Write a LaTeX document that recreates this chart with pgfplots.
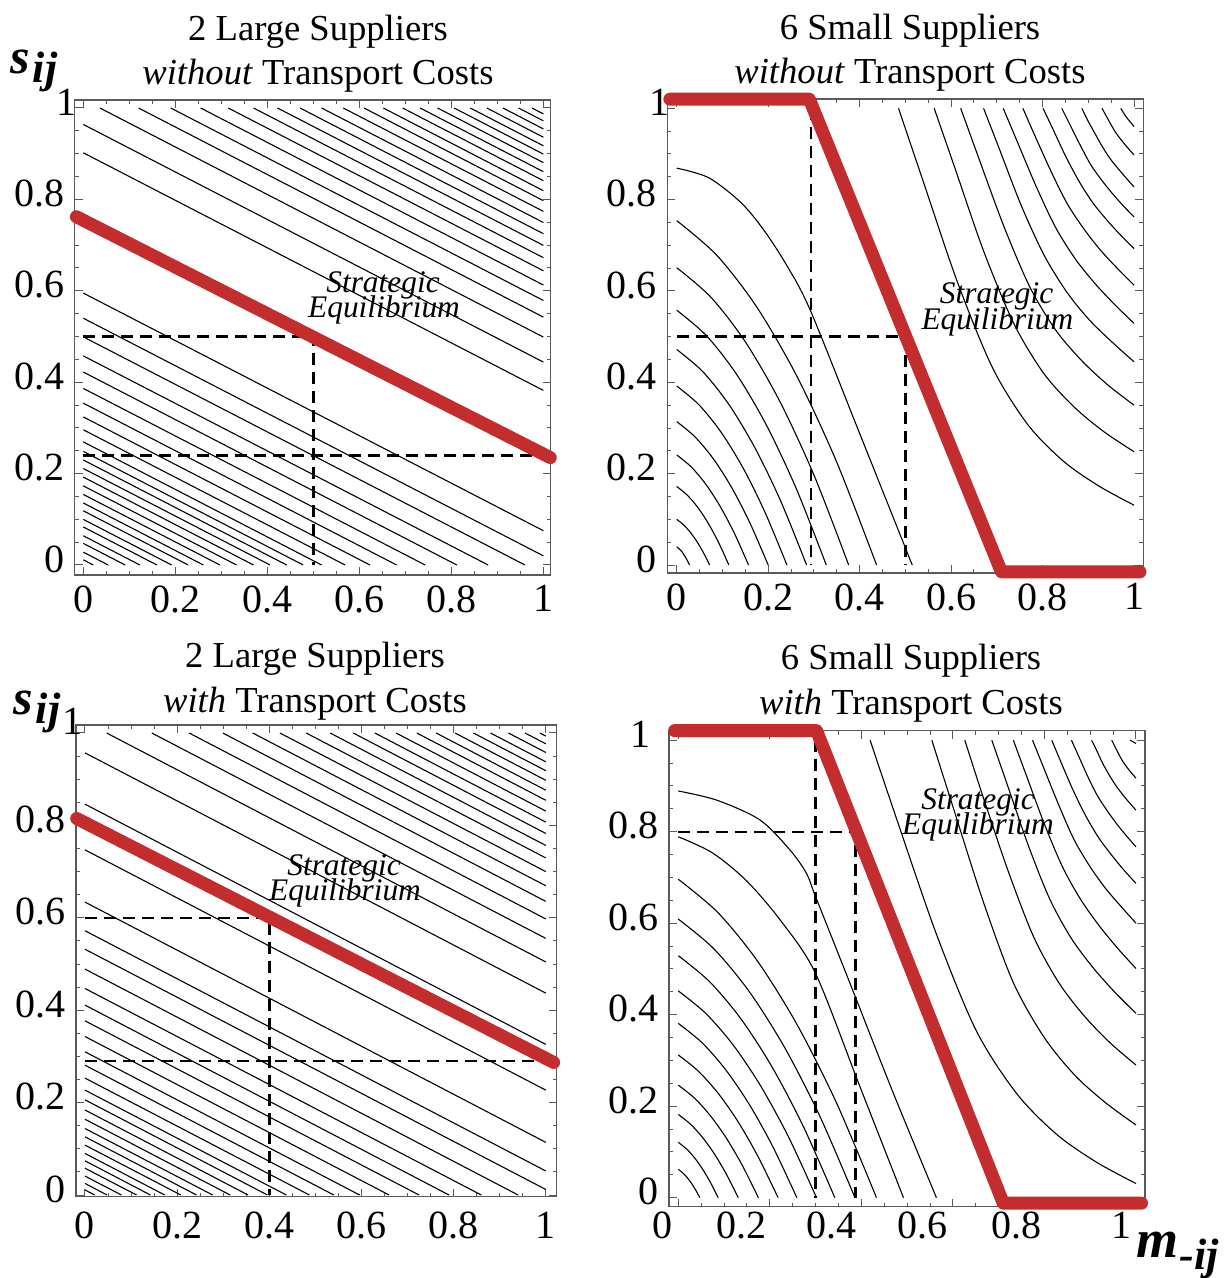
\documentclass[border=0pt]{standalone}
\usepackage{fontspec}
\setmainfont{Liberation Serif}
\usepackage{pgfplots}
\pgfplotsset{compat=1.18}
\definecolor{eqred}{RGB}{196,45,45}
\definecolor{framegray}{RGB}{90,90,90}
\pgfplotsset{
  panel/.style={
    scale only axis, anchor=north west, clip=false,
    axis line style={draw=framegray, line width=0.6pt},
    tick style={draw=framegray, line width=0.5pt},
    tick align=inside, tick pos=both,
    xtick={0,0.2,0.4,0.6,0.8,1}, ytick={0,0.2,0.4,0.6,0.8,1},
    xticklabels={0,0.2,0.4,0.6,0.8,1},
    minor tick num=3,
    major tick length=4pt, minor tick length=2pt,
    tick label style={font=\fontsize{20}{24}\selectfont, inner sep=1pt},
    xticklabel style={yshift=-4pt},
    yticklabel style={xshift=-4pt, yshift=3pt},
  },
  contour/.style={black, line width=0.55pt, no markers},
  curve/.style={black, line width=0.55pt, no markers, smooth},
  eqline/.style={eqred, line width=6.5pt, line cap=round, line join=round, no markers},
  dline/.style={black, line width=1.2pt, dash pattern=on 6pt off 3.5pt, no markers},
}
\newcommand{\cl}[4]{\addplot[contour] coordinates {(#1,#2) (#3,#4)};}
\begin{document}
\begin{tikzpicture}
% ---------------- Panel 1 ----------------
\begin{axis}[panel, at={(37.35pt,-50pt)}, width=238pt, height=237.5pt,
  xmin=-0.0187, xmax=1.0159, ymin=-0.0219, ymax=1.0175,
  yticklabels={0,0.2,0.4,0.6,0.8,{1\hspace*{-6pt}}}]
\cl{0}{0.0113}{0.0217}{0}
\cl{0}{0.0281}{0.054}{0}
\cl{0}{0.0473}{0.091}{0}
\cl{0}{0.0640}{0.123}{0}
\cl{0}{0.0832}{0.160}{0}
\cl{0}{0.0998}{0.192}{0}
\cl{0}{0.1186}{0.228}{0}
\cl{0}{0.1357}{0.261}{0}
\cl{0}{0.1544}{0.297}{0}
\cl{0}{0.1732}{0.333}{0}
\cl{0}{0.1924}{0.370}{0}
\cl{0}{0.2111}{0.406}{0}
\cl{0}{0.2298}{0.442}{0}
\cl{0}{0.2486}{0.478}{0}
\cl{0}{0.2694}{0.518}{0}
\cl{0}{0.2959}{0.569}{0}
\cl{0}{0.3240}{0.623}{0}
\cl{0}{0.3541}{0.681}{0}
\cl{0}{0.3864}{0.743}{0}
\cl{0}{0.4222}{0.812}{0}
\cl{0}{0.4576}{0.880}{0}
\cl{0}{0.4992}{0.960}{0}
\cl{0}{0.540}{1}{0.020}
\cl{0}{0.595}{1}{0.075}
\cl{0}{0.902}{1}{0.382}
\cl{0}{0.964}{1}{0.444}
\cl{0.036}{1}{1}{0.4987}
\cl{0.120}{1}{1}{0.5424}
\cl{0.190}{1}{1}{0.5788}
\cl{0.255}{1}{1}{0.6126}
\cl{0.315}{1}{1}{0.6438}
\cl{0.370}{1}{1}{0.6724}
\cl{0.422}{1}{1}{0.6994}
\cl{0.471}{1}{1}{0.7249}
\cl{0.518}{1}{1}{0.7494}
\cl{0.565}{1}{1}{0.7738}
\cl{0.610}{1}{1}{0.7972}
\cl{0.652}{1}{1}{0.8190}
\cl{0.694}{1}{1}{0.8409}
\cl{0.732}{1}{1}{0.8606}
\cl{0.770}{1}{1}{0.8804}
\cl{0.806}{1}{1}{0.8991}
\cl{0.841}{1}{1}{0.9173}
\cl{0.877}{1}{1}{0.9360}
\cl{0.912}{1}{1}{0.9542}
\cl{0.946}{1}{1}{0.9719}
\cl{0.975}{1}{1}{0.9870}
\addplot[dline] coordinates {(0,0.5) (0.5,0.5) (0.5,0)};
\addplot[dline] coordinates {(0,0.24) (1,0.24)};
\addplot[eqline] coordinates {(-0.015,0.762) (1.015,0.235)};
\end{axis}
% ---------------- Panel 2 ----------------
\begin{axis}[panel, at={(333.65pt,-49.5pt)}, width=238pt, height=237pt,
  xmin=-0.0206, xmax=1.0203, ymin=-0.0175, ymax=1.0204,
  yticklabels={0,0.2,0.4,0.6,0.8,{1\hspace*{-6.5pt}}}]
\addplot[curve] coordinates {(0,.869)(.07,.848)(.14,.794)(.19,.734)(.24,.657)(.292,.558)(.40,.288)(.515,0)};
\addplot[curve] coordinates {(0,.754)(.0874,.6784)(.1748,.5652)(.2622,.4144)(.3496,.2260)(.437,0)};
\addplot[curve] coordinates {(0,.651)(.0752,.5859)(.1504,.4881)(.2256,.3579)(.3008,.1953)(.376,0)};
\addplot[curve] coordinates {(0,.558)(.0654,.5017)(.1308,.4177)(.1962,.3061)(.2616,.1669)(.327,0)};
\addplot[curve] coordinates {(0,.472)(.0568,.4236)(.1136,.3522)(.1704,.2578)(.2272,.1404)(.284,0)};
\addplot[curve] coordinates {(0,.392)(.0482,.3512)(.0964,.2917)(.1446,.2133)(.1928,.1160)(.241,0)};
\addplot[curve] coordinates {(0,.314)(.04,.2806)(.08,.2326)(.12,.1698)(.16,.0922)(.2,0)};
\addplot[curve] coordinates {(0,.241)(.0314,.2151)(.0628,.1779)(.0942,.1297)(.1256,.0705)(.157,0)};
\addplot[curve] coordinates {(0,.172)(.0228,.1532)(.0456,.1267)(.0684,.0923)(.0912,.0500)(.114,0)};
\addplot[curve] coordinates {(0,.1)(.0144,.0885)(.0288,.0728)(.0432,.0528)(.0576,.0285)(.072,0)};
\addplot[curve] coordinates {(0,.04)(.0112,.0292)(.0224,.0115)(.028,0)};
\addplot[curve] coordinates {(.485,1)(.537,.846)(.614,.619)(.691,.431)(.768,.307)(.846,.227)(.923,.173)(1,.131)};
\addplot[curve] coordinates {(.563,1)(.607,.873)(.672,.685)(.738,.527)(.803,.419)(.869,.346)(.934,.292)(1,.248)};
\addplot[curve] coordinates {(.621,1)(.659,.895)(.716,.740)(.773,.607)(.829,.514)(.886,.447)(.943,.394)(1,.35)};
\addplot[curve] coordinates {(.671,1)(.704,.915)(.753,.788)(.803,.679)(.852,.599)(.901,.538)(.951,.489)(1,.445)};
\addplot[curve] coordinates {(.714,1)(.743,.931)(.786,.829)(.828,.740)(.871,.671)(.914,.617)(.957,.571)(1,.529)};
\addplot[curve] coordinates {(.757,1)(.781,.945)(.818,.863)(.854,.791)(.891,.735)(.927,.689)(.964,.649)(1,.613)};
\addplot[curve] coordinates {(.801,1)(.821,.958)(.851,.894)(.881,.838)(.910,.793)(.940,.756)(.970,.723)(1,.693)};
\addplot[curve] coordinates {(.842,1)(.858,.968)(.882,.920)(.905,.877)(.929,.843)(.953,.813)(.976,.787)(1,.762)};
\addplot[curve] coordinates {(.886,1)(.897,.977)(.915,.944)(.932,.914)(.949,.888)(.966,.867)(.983,.847)(1,.828)};
\addplot[curve] coordinates {(.930,1)(.958,.950)(.979,.922)(1,.898)};
\addplot[curve] coordinates {(.971,1)(.983,.981)(.992,.970)(1,.96)};
\addplot[dline] coordinates {(0.293,1) (0.293,0)};
\addplot[dline] coordinates {(0,0.5) (0.5,0.5) (0.5,0)};
\addplot[eqline] coordinates {(-0.015,1.02) (0.29,1.02) (0.71,-0.015) (1.013,-0.015)};
\end{axis}
% ---------------- Panel 3 ----------------
\begin{axis}[panel, at={(38pt,-362.5pt)}, width=240.35pt, height=235.85pt,
  xmin=-0.0195, xmax=1.0237, ymin=-0.0037, ymax=1.0173,
  xticklabel style={yshift=-2.5pt},
  yticklabels={0,0.2,0.4,0.6,0.8,{\raisebox{5.5pt}{1}\hspace*{-8.5pt}}}]
\cl{0}{0.011}{0.021}{0}
\cl{0}{0.025}{0.048}{0}
\cl{0}{0.041}{0.079}{0}
\cl{0}{0.058}{0.112}{0}
\cl{0}{0.074}{0.142}{0}
\cl{0}{0.090}{0.173}{0}
\cl{0}{0.108}{0.208}{0}
\cl{0}{0.126}{0.242}{0}
\cl{0}{0.144}{0.277}{0}
\cl{0}{0.164}{0.315}{0}
\cl{0}{0.184}{0.354}{0}
\cl{0}{0.206}{0.396}{0}
\cl{0}{0.227}{0.437}{0}
\cl{0}{0.253}{0.487}{0}
\cl{0}{0.281}{0.540}{0}
\cl{0}{0.310}{0.596}{0}
\cl{0}{0.343}{0.660}{0}
\cl{0}{0.377}{0.725}{0}
\cl{0}{0.411}{0.790}{0}
\cl{0}{0.447}{0.860}{0}
\cl{0}{0.489}{0.940}{0}
\cl{0}{0.532}{1}{0.012}
\cl{0}{0.572}{1}{0.052}
\cl{0}{0.634}{1}{0.114}
\cl{0}{0.747}{1}{0.227}
\cl{0}{0.846}{1}{0.326}
\cl{0}{0.957}{1}{0.437}
\cl{0.047}{1}{1}{0.5044}
\cl{0.145}{1}{1}{0.5554}
\cl{0.226}{1}{1}{0.5975}
\cl{0.299}{1}{1}{0.6355}
\cl{0.364}{1}{1}{0.6693}
\cl{0.423}{1}{1}{0.7000}
\cl{0.480}{1}{1}{0.7296}
\cl{0.532}{1}{1}{0.7566}
\cl{0.582}{1}{1}{0.7826}
\cl{0.629}{1}{1}{0.8071}
\cl{0.675}{1}{1}{0.8310}
\cl{0.720}{1}{1}{0.8544}
\cl{0.762}{1}{1}{0.8762}
\cl{0.803}{1}{1}{0.8976}
\cl{0.843}{1}{1}{0.9184}
\cl{0.880}{1}{1}{0.9376}
\cl{0.919}{1}{1}{0.9579}
\cl{0.955}{1}{1}{0.9766}
\cl{0.987}{1}{1}{0.9932}
\addplot[dline] coordinates {(0,0.6) (0.4,0.6) (0.4,0)};
\addplot[dline] coordinates {(0,0.29) (1,0.29)};
\addplot[eqline] coordinates {(-0.018,0.815) (1.017,0.287)};
\end{axis}
% ---------------- Panel 4 ----------------
\begin{axis}[panel, at={(334.5pt,-365.35pt)}, width=238pt, height=238pt,
  xmin=-0.0203, xmax=1.0197, ymin=-0.0197, ymax=1.0208, xticklabels={,,,,,},
  yticklabels={0,0.2,0.4,0.6,0.8,{1\hspace*{4pt}}}]
\addplot[curve] coordinates {(0,.889)(.084,.869)(.178,.826)(.244,.760)(.280,.709)(.300,.658)(.375,.469)(.470,.228)(.564,0)};
\addplot[curve] coordinates {(0,.789)(.075,.7535)(.15,.6918)(.225,.604)(.3,.49)(.396,.245)(.492,0)};
\addplot[curve] coordinates {(0,.696)(.0866,.6232)(.1732,.5170)(.2598,.3778)(.3464,.2056)(.433,0)};
\addplot[curve] coordinates {(0,.609)(.0772,.5445)(.1544,.4514)(.2316,.3296)(.3088,.1791)(.386,0)};
\addplot[curve] coordinates {(0,.529)(.0684,.4722)(.1368,.3910)(.2052,.2852)(.2736,.1548)(.342,0)};
\addplot[curve] coordinates {(0,.452)(.0604,.4025)(.1208,.3326)(.1812,.2422)(.2416,.1313)(.302,0)};
\addplot[curve] coordinates {(0,.381)(.0518,.3389)(.1036,.2796)(.1554,.2034)(.2072,.1103)(.259,0)};
\addplot[curve] coordinates {(0,.312)(.0436,.2768)(.0872,.2281)(.1308,.1657)(.1744,.0896)(.218,0)};
\addplot[curve] coordinates {(0,.246)(.035,.2180)(.07,.1793)(.105,.1301)(.14,.0704)(.175,0)};
\addplot[curve] coordinates {(0,.182)(.0262,.1611)(.0524,.1325)(.0786,.0961)(.1048,.0519)(.131,0)};
\addplot[curve] coordinates {(0,.121)(.0174,.1071)(.0348,.0880)(.0522,.0638)(.0696,.0345)(.087,0)};
\addplot[curve] coordinates {(0,.062)(.0094,.0546)(.0188,.0448)(.0282,.0324)(.0376,.0174)(.047,0)};
\addplot[curve] coordinates {(.419,1)(.477,.828)(.564,.576)(.651,.365)(.739,.228)(.826,.139)(.913,.078)(1,.031)};
\addplot[curve] coordinates {(.554,1)(.599,.858)(.666,.648)(.732,.470)(.799,.351)(.866,.268)(.933,.208)(1,.159)};
\addplot[curve] coordinates {(.626,1)(.663,.885)(.720,.716)(.776,.571)(.832,.469)(.888,.396)(.944,.338)(1,.29)};
\addplot[curve] coordinates {(.685,1)(.717,.908)(.764,.772)(.811,.654)(.858,.568)(.906,.503)(.953,.450)(1,.403)};
\addplot[curve] coordinates {(.732,1)(.759,.927)(.799,.819)(.839,.724)(.879,.652)(.920,.594)(.960,.545)(1,.501)};
\addplot[curve] coordinates {(.774,1)(.797,.943)(.831,.859)(.864,.784)(.898,.726)(.932,.678)(.966,.638)(1,.6)};
\addplot[curve] coordinates {(.816,1)(.834,.957)(.862,.892)(.890,.835)(.917,.789)(.945,.751)(.972,.718)(1,.687)};
\addplot[curve] coordinates {(.859,1)(.873,.969)(.894,.922)(.915,.880)(.937,.846)(.958,.817)(.979,.791)(1,.767)};
\addplot[curve] coordinates {(.903,1)(.913,.980)(.927,.950)(.942,.923)(.956,.901)(.971,.881)(.985,.864)(1,.847)};
\addplot[curve] coordinates {(.947,1)(.968,.959)(.984,.936)(1,.917)};
\addplot[contour] coordinates {(.987,1)(1,.993)};
\addplot[dline] coordinates {(0.30,1) (0.30,0)};
\addplot[dline] coordinates {(0,0.8) (0.387,0.8) (0.387,0)};
\addplot[eqline] coordinates {(-0.008,1.021) (0.302,1.021) (0.71,-0.012) (1.012,-0.012)};
\end{axis}
% ---------------- Texts ----------------
\begin{scope}[every node/.style={inner sep=0pt, anchor=base}]
\node[font=\fontsize{18.3}{22}\selectfont] at (159pt,-20.5pt) {2 Large Suppliers};
\node[font=\fontsize{18.3}{22}\selectfont] at (159pt,-42.5pt) {\textit{without} Transport Costs};
\node[font=\fontsize{18.3}{22}\selectfont] at (455pt,-20pt) {6 Small Suppliers};
\node[font=\fontsize{18.3}{22}\selectfont] at (455pt,-42pt) {\textit{without} Transport Costs};
\node[font=\fontsize{18.3}{22}\selectfont] at (157.5pt,-333.5pt) {2 Large Suppliers};
\node[font=\fontsize{18.3}{22}\selectfont] at (157.5pt,-356pt) {\textit{with} Transport Costs};
\node[font=\fontsize{18.3}{22}\selectfont] at (455.5pt,-334.5pt) {6 Small Suppliers};
\node[font=\fontsize{18.3}{22}\selectfont] at (455.5pt,-357pt) {\textit{with} Transport Costs};
\end{scope}
\begin{scope}[every node/.style={inner sep=0pt, anchor=base, font=\fontsize{15.7}{18}\selectfont\itshape}]
\node[text depth=0pt] at (191.5pt,-146.2pt) {Strategic};
\node[text height=5pt] at (192pt,-159pt) {Equilibrium};
\node[text depth=0pt] at (498.3pt,-152pt) {Strategic};
\node[text height=5pt] at (498.7pt,-164.5pt) {Equilibrium};
\node[text depth=0pt] at (172pt,-437.8pt) {Strategic};
\node[text height=5pt] at (172.5pt,-450.3pt) {Equilibrium};
\node[text depth=0pt] at (489pt,-404.5pt) {Strategic};
\node[text height=5pt] at (489pt,-417.3pt) {Equilibrium};
\end{scope}
\begin{scope}[every node/.style={inner sep=0pt, anchor=base, font=\fontsize{20}{24}\selectfont}]
\node at (331pt,-619pt) {0};
\node at (370.5pt,-619pt) {0.2};
\node at (415.5pt,-619pt) {0.4};
\node at (461pt,-619pt) {0.6};
\node at (508pt,-619pt) {0.8};
\node at (560.5pt,-619pt) {1};
\end{scope}
\node[inner sep=0pt, anchor=base west] at (5pt,-37pt)
  {\fontsize{25}{30}\selectfont\bfseries\itshape s\kern1.5pt\raisebox{-4.5pt}{\fontsize{22}{26}\selectfont ij}};
\node[inner sep=0pt, anchor=base west] at (6.5pt,-357pt)
  {\fontsize{25}{30}\selectfont\bfseries\itshape s\kern1.5pt\raisebox{-4.5pt}{\fontsize{22}{26}\selectfont ij}};
\node[inner sep=0pt, anchor=base west] at (568pt,-628.5pt)
  {\fontsize{27}{30}\selectfont\bfseries\itshape m\kern0.5pt\raisebox{-6pt}{\fontsize{22}{26}\selectfont -ij}};
\pgfresetboundingbox
\path[use as bounding box] (0,0) rectangle (612pt,-639pt);
\end{tikzpicture}
\end{document}
